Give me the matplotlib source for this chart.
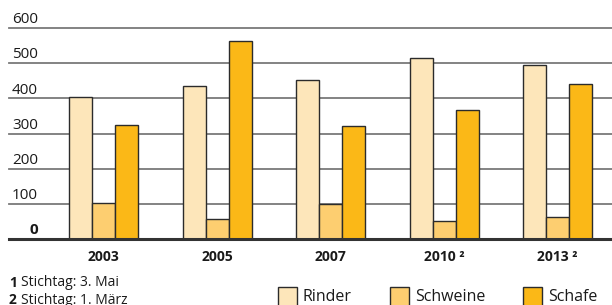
import matplotlib.pyplot as plt
import matplotlib.transforms as mtransforms
from matplotlib.patches import Rectangle
import numpy as np

years = ['2003', '2005', '2007', '2010 ²', '2013 ²']
rinder = [405, 436, 452, 514, 494]
schweine = [104, 57, 100, 51, 64]
schafe = [324, 562, 322, 368, 440]
yticks = [0, 100, 200, 300, 400, 500, 600]

c_rinder = '#FDE6BA'
c_schweine = '#FDCE70'
c_schafe = '#FBB817'
edge = '#2b2b2b'
font = ['Open Sans', 'DejaVu Sans']

W, H = 612, 305
fig = plt.figure(figsize=(W / 100, H / 100), dpi=100)
# axes in pixel terms: left 9, right 612, zero line at y=239.3, 600 at y=28
ax = fig.add_axes([9 / W, (H - 239.3) / H, 603 / W, (239.3 - 28) / H])
ax.set_ylim(0, 600)
ax.set_xlim(-0.8326, 4.48)
for s in ax.spines.values():
    s.set_visible(False)
ax.set_xticks([])
ax.set_yticks([])

for v in yticks[1:]:
    ax.axhline(v, color='#7a7a7a', lw=1.3, zorder=1, clip_on=False)
ax.axhline(0, color='#333333', lw=2.2, zorder=4, clip_on=False)

x = np.arange(len(years))
w = 0.2026
for off, vals, col in [(-w, rinder, c_rinder), (0, schweine, c_schweine), (w, schafe, c_schafe)]:
    # slight shadow
    ax.bar(x + off + 0.01, vals, w, bottom=0, color='#9a9a9a', edgecolor='none', zorder=2)
    ax.bar(x + off, vals, w, color=col, edgecolor=edge, linewidth=1.0, zorder=3)

# y labels sitting above gridlines
trans = mtransforms.blended_transform_factory(fig.transFigure, ax.transData)
offs = mtransforms.ScaledTranslation(0, 3.5 / 72, fig.dpi_scale_trans)
for v in yticks:
    ax.text(38 / W, v, str(v), transform=trans + offs, ha='right', va='baseline',
            fontsize=11, family=font, color='#1a1a1a',
            fontweight='bold' if v == 0 else 'normal')

# year labels
for i, yr in enumerate(years):
    ax.text(x[i], -30, yr, ha='center', va='top', fontsize=10, fontweight='bold',
            family=['Liberation Sans Narrow', 'Open Sans', 'DejaVu Sans'], color='#1a1a1a')

# footnotes
notes = [('1', 'Stichtag: 3. Mai', 283), ('2', 'Stichtag: 1. März', 300)]
for num, txt, py in notes:
    fig.text(9 / W, 1 - py / H, num, fontsize=10, fontweight='bold', family=font,
             va='center', color='#1a1a1a')
    fig.text(21 / W, 1 - py / H, txt, fontsize=10, family=font, va='center', color='#1a1a1a')

# legend
leg = [('Rinder', c_rinder, 278), ('Schweine', c_schweine, 390), ('Schafe', c_schafe, 523)]
for name, col, px in leg:
    fig.patches.append(Rectangle((px / W, -0.02), 19 / W, (H - 287) / H + 0.02,
                                 transform=fig.transFigure, facecolor=col,
                                 edgecolor=edge, linewidth=1.0))
    fig.text((px + 25) / W, 1 - 297 / H, name, fontsize=11.5, family=font,
             va='center', color='#1a1a1a')

fig.savefig('out.png', dpi=100)
